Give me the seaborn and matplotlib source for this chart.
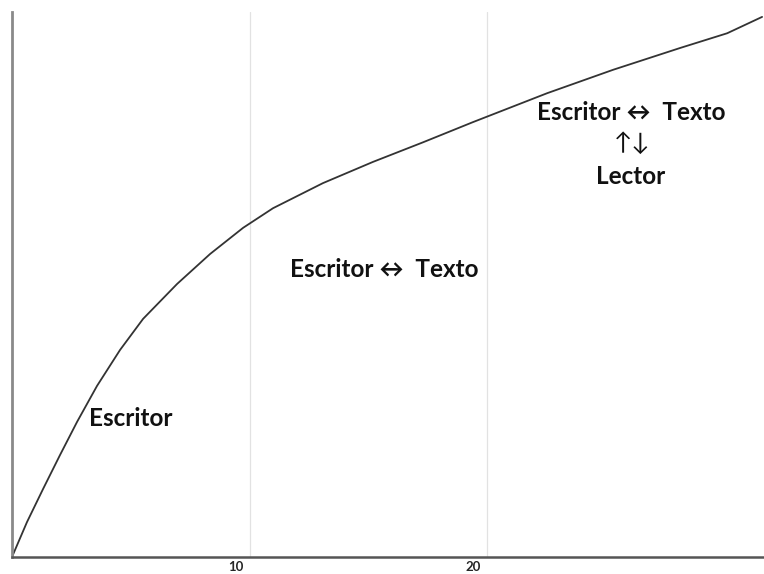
import matplotlib
matplotlib.use('Agg')
import matplotlib.pyplot as plt
import matplotlib.transforms as mtransforms
import seaborn as sns
import pandas as pd

# curve (x in chart units, y in % of axis height)
x_vals = [0, 0.63, 1.31, 2.02, 2.74, 3.58, 4.55, 5.52, 6.95, 8.34, 9.73, 10.99, 13.09,
          15.2, 17.31, 19.41, 22.53, 25.31, 28.13, 30.11, 31.58]
y_vals = [0, 6.4, 12.5, 18.7, 24.8, 31.4, 38.0, 43.7, 50.1, 55.6, 60.4, 64.0, 68.6,
          72.5, 76.1, 79.8, 85.1, 89.4, 93.4, 96.1, 99.1]
tick_pos = [10, 20]
tick_labels = ['10', '20']

df = pd.DataFrame({'x': x_vals, 'y': y_vals})

sns.set_style('white')
plt.rcParams['font.family'] = ['Lato', 'DejaVu Sans']

fig = plt.figure(figsize=(7.64, 5.74), dpi=100)
ax = fig.add_axes([0.0157, 0.0296, 0.9843, 0.9495])

sns.lineplot(x='x', y='y', data=df, ax=ax, color='#333333', linewidth=1.3)

ax.set_xlim(0, 31.66)
ax.set_ylim(0, 100)
ax.set_xticks(tick_pos)
ax.set_xticklabels(tick_labels, fontsize=9.5, fontweight='bold')
ax.set_yticks([])
ax.tick_params(axis='x', length=0, pad=3)
offset = mtransforms.ScaledTranslation(-0.14, 0, fig.dpi_scale_trans)
for lab in ax.get_xticklabels():
    lab.set_transform(lab.get_transform() + offset)

for t in tick_pos:
    ax.axvline(t, color='#e2e2e2', linewidth=0.9, zorder=0)

ax.set_xlabel('')
ax.set_ylabel('')
for s in ['top', 'right']:
    ax.spines[s].set_visible(False)
ax.spines['left'].set_color('#8a8a8a')
ax.spines['left'].set_linewidth(2)
ax.spines['bottom'].set_color('#555555')
ax.spines['bottom'].set_linewidth(1.8)

kw = dict(ha='center', va='center', fontsize=17.5, fontweight='bold', color='#111111')
ax.text(5.01, 25.5, 'Escritor', **kw)
ax.text(15.68, 52.7, 'Escritor \u2194  Texto', **kw)
ax.text(26.06, 81.5, 'Escritor \u2194  Texto', **kw)
ax.text(26.1, 76.0, '\u2191\u2193', ha='center', va='center', fontsize=17.5, color='#111111')
ax.text(26.06, 69.9, 'Lector', **kw)

fig.savefig('out.png', dpi=100)
